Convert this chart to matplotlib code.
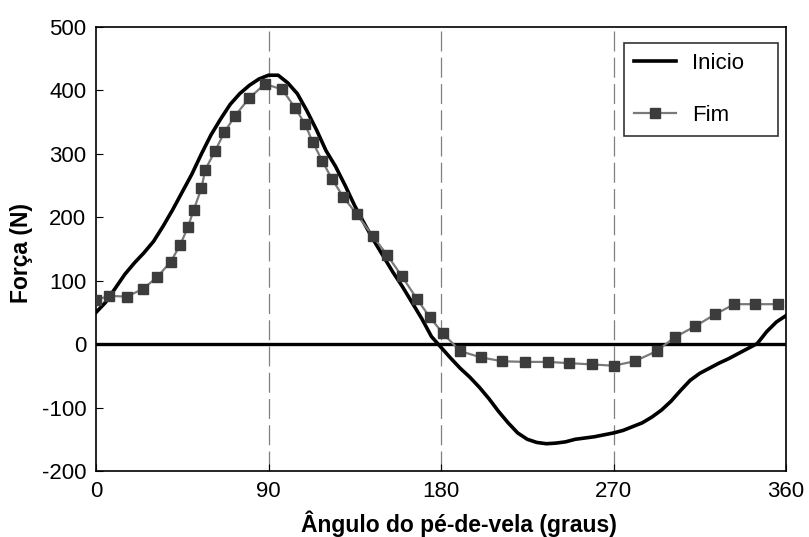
import matplotlib.pyplot as plt

plt.rcParams["font.family"] = ["Liberation Sans", "DejaVu Sans"]
plt.rcParams["axes.unicode_minus"] = False

# Inicio (linha preta continua)
inicio_ang = [0, 5, 10, 15, 20, 25, 30, 35, 40, 45, 50, 55, 60, 65, 70, 75, 80, 85, 90, 95,
              100, 105, 110, 115, 120, 125, 130, 135, 140, 145, 150, 155, 160, 165, 170, 175,
              180, 185, 190, 195, 200, 205, 210, 215, 220, 225, 230, 235, 240, 245, 250, 255,
              260, 265, 270, 275, 280, 285, 290, 295, 300, 305, 310, 315, 320, 325, 330, 335,
              340, 345, 350, 355, 360]
inicio_forca = [50, 66, 88, 110, 128, 144, 162, 186, 212, 240, 268, 300, 330, 355, 378, 395,
                408, 418, 424, 424, 412, 395, 368, 338, 305, 280, 250, 218, 190, 163, 138, 113,
                90, 65, 40, 12, -5, -22, -38, -52, -68, -86, -106, -124, -140, -150, -155, -157,
                -156, -154, -150, -148, -146, -143, -140, -136, -130, -124, -115, -104, -90,
                -73, -57, -46, -38, -30, -23, -15, -7, 1, 20, 35, 45]

# Fim (linha cinza com quadrados)
fim_ang = [0, 7, 16, 24.5, 32, 39, 44, 48, 51, 55, 57, 62, 67, 72.5, 80, 88, 97, 104, 109,
           113, 118, 123, 129, 136, 144.5, 152, 159.6, 167.5, 174, 181, 190, 201, 212, 224,
           236, 247, 259, 270, 281, 292.5, 302, 312.5, 323, 333, 344, 356]
fim_forca = [70, 76, 75, 87, 106, 130, 157, 185, 212, 246, 275, 304, 334, 360, 388, 410, 402,
             372, 347, 319, 289, 261, 232, 205, 170, 140, 107, 71, 43, 17, -11, -21, -27, -28,
             -28, -30, -32, -34, -27, -11, 11, 28, 47, 63, 63, 63]

xticks = [0, 90, 180, 270, 360]
yticks = [-200, -100, 0, 100, 200, 300, 400, 500]

fig = plt.figure(figsize=(8.09, 5.37), dpi=100)
ax = fig.add_axes([0.1187, 0.1229, 0.8529, 0.8268])

for x in [90, 180, 270]:
    ax.axvline(x, color="#808080", lw=0.9, ls=(0, (16, 5)), zorder=1)
ax.axhline(0, color="black", lw=2.4, zorder=2)

ax.plot(inicio_ang, inicio_forca, color="black", lw=2.6, label="Inicio", zorder=3)
ax.plot(fim_ang, fim_forca, color="#7a7a7a", lw=1.6, marker="s", markersize=7,
        markerfacecolor="#3c3c3c", markeredgecolor="#3c3c3c", label="Fim", zorder=4)

ax.set_xlim(0, 360)
ax.set_ylim(-200, 500)
ax.set_xticks(xticks)
ax.set_yticks(yticks)
ax.tick_params(direction="in", length=5, labelsize=16, pad=7)
for s in ax.spines.values():
    s.set_linewidth(1.2)

ax.set_xlabel("Ângulo do pé-de-vela (graus)", fontsize=16.5, fontweight="bold")
ax.set_ylabel("Força (N)", fontsize=16.5, fontweight="bold")
ax.xaxis.set_label_coords(0.526, -0.088)
ax.yaxis.set_label_coords(-0.092, 0.491)

# caixa da legenda com o tamanho da original
leg = ax.legend(loc="upper left", bbox_to_anchor=(0.765, 0.770, 0.2232, 0.194),
                mode="expand", fontsize=16, frameon=True, fancybox=False,
                edgecolor="black", borderpad=0.45, labelspacing=1.4, handlelength=1.9,
                handletextpad=0.7, borderaxespad=0)
leg.get_frame().set_linewidth(1.2)

plt.savefig("out.png", dpi=100)
